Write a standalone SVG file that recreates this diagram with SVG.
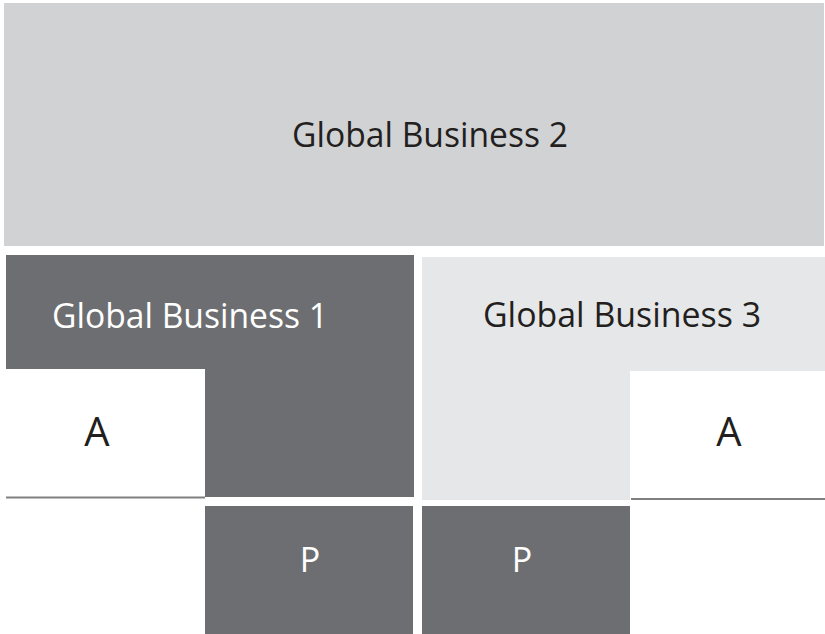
<svg xmlns="http://www.w3.org/2000/svg" width="825" height="634" viewBox="0 0 825 634">
<style>
.dark{fill:#6d6e71}
.lt{fill:#d1d2d4}
.lt2{fill:#e6e7e8}
.t{font-family:"Open Sans","Noto Sans",sans-serif;font-size:34px;text-anchor:middle}
.big{font-size:40px}
.w{fill:#ffffff}
.k{fill:#231f20}
.rule{stroke:#808080;stroke-width:2}
</style>
<rect width="825" height="634" fill="#ffffff"/>
<g id="gb2">
<rect class="lt" x="4" y="3" width="820" height="243"/>
<text class="t k" x="430" y="147" textLength="276" lengthAdjust="spacingAndGlyphs">Global Business 2</text>
</g>
<g id="gb1">
<path class="dark" d="M6 255H414V497H205V369H6Z"/>
<text class="t w" x="190" y="328" textLength="276" lengthAdjust="spacingAndGlyphs">Global Business 1</text>
</g>
<g id="gb3">
<path class="lt2" d="M422 257H825V371H630V500H422Z"/>
<text class="t k" x="622" y="327" textLength="278" lengthAdjust="spacingAndGlyphs">Global Business 3</text>
</g>
<g id="a1">
<text class="t big k" x="97" y="446">A</text>
<line class="rule" x1="6" y1="497.5" x2="205" y2="497.5"/>
</g>
<g id="a2">
<text class="t big k" x="729" y="446">A</text>
<line class="rule" x1="631" y1="499" x2="825" y2="499"/>
</g>
<g id="p1">
<rect class="dark" x="205" y="506" width="208" height="128"/>
<text class="t w" x="310" y="572">P</text>
</g>
<g id="p2">
<rect class="dark" x="422" y="506" width="208" height="128"/>
<text class="t w" x="522" y="572">P</text>
</g>
<g id="connectors"/>
</svg>
